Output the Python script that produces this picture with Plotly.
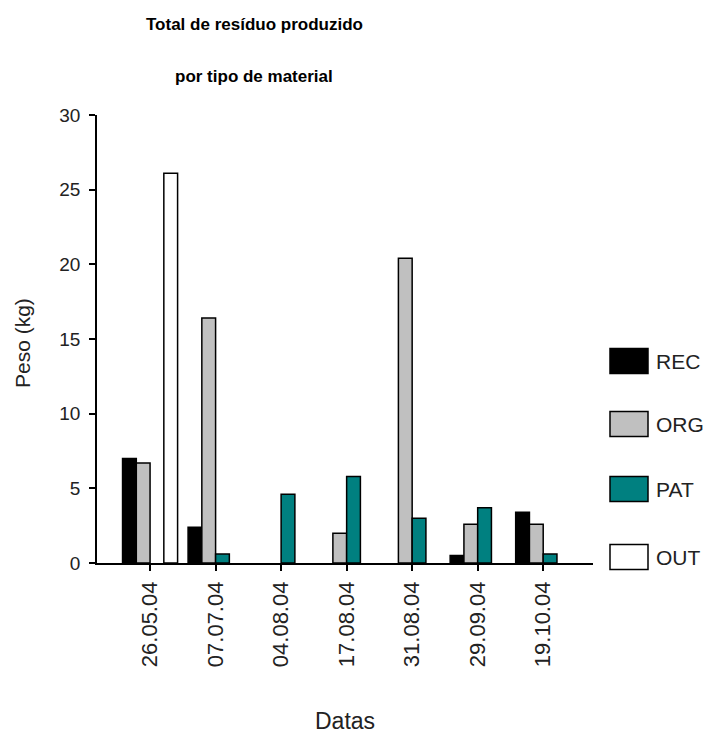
import plotly.graph_objects as go

# Collection dates (categories)
datas = ["26.05.04", "07.07.04", "04.08.04", "17.08.04", "31.08.04", "29.09.04", "19.10.04"]

# Weight (kg) per material type
rec = [7.0, 2.4, 0.0, 0.0, 0.0, 0.5, 3.4]
org = [6.7, 16.4, 0.0, 2.0, 20.4, 2.6, 2.6]
pat = [0.0, 0.6, 4.6, 5.8, 3.0, 3.7, 0.6]
out = [26.1, 0.0, 0.0, 0.0, 0.0, 0.0, 0.0]

series_names = ["REC", "ORG", "PAT", "OUT"]
series_values = [rec, org, pat, out]
series_colors = ["#000000", "#c0c0c0", "#008080", "#ffffff"]

W, H = 705, 734
L, R, T, B = 97, 593, 115, 563  # plot area in pixels
FONT = "Liberation Sans, Arial, sans-serif"


def px_x(x):
    return (x - L) / (R - L)


def px_y(y):
    return (B - y) / (B - T)


fig = go.Figure()
for name, vals, col in zip(series_names, series_values, series_colors):
    fig.add_trace(go.Bar(
        x=datas, y=vals, name=name,
        marker=dict(color=col,
                    line=dict(color="#000000",
                              width=[1.5 if v > 0 else 0 for v in vals])),
        showlegend=False,
    ))

annotations = [
    dict(text="<b>Total de resíduo produzido</b>", x=px_x(254), y=px_y(25)),
    dict(text="<b>por tipo de material</b>", x=px_x(254), y=px_y(77)),
]
for a in annotations:
    a.update(xref="paper", yref="paper", showarrow=False,
             xanchor="center", yanchor="middle",
             font=dict(family=FONT, size=17, color="#000000"))

# Axis titles
annotations.append(dict(text="Peso (kg)", x=px_x(22), y=px_y(343), xref="paper", yref="paper",
                        showarrow=False, textangle=-90, xanchor="center", yanchor="middle",
                        font=dict(family=FONT, size=21, color="#222222")))
annotations.append(dict(text="Datas", x=px_x(345), y=px_y(721), xref="paper", yref="paper",
                        showarrow=False, xanchor="center", yanchor="middle",
                        font=dict(family=FONT, size=23, color="#222222")))

# Legend: swatch boxes and labels
shapes = []
legend_y = [361, 424, 489, 557]
for name, col, cy in zip(series_names, series_colors, legend_y):
    shapes.append(dict(type="rect", xref="paper", yref="paper",
                       x0=px_x(610), x1=px_x(648), y0=px_y(cy + 12.5), y1=px_y(cy - 12.5),
                       fillcolor=col, line=dict(color="#000000", width=1.5)))
    annotations.append(dict(text=name, x=px_x(654), y=px_y(cy), xref="paper", yref="paper",
                            showarrow=False, xanchor="left", yanchor="middle",
                            font=dict(family=FONT, size=21, color="#222222")))

fig.update_layout(
    width=W, height=H,
    margin=dict(l=L, r=W - R, t=T, b=H - B, pad=0),
    paper_bgcolor="#ffffff", plot_bgcolor="#ffffff",
    barmode="group", bargap=0.16, bargroupgap=0.0,
    annotations=annotations, shapes=shapes,
    font=dict(family=FONT, color="#222222"),
)
fig.update_xaxes(
    type="category", range=[-0.81, 6.76],
    showline=True, linecolor="#000000", linewidth=1.5,
    ticks="outside", ticklen=6, tickcolor="#000000", tickwidth=1.5,
    tickangle=-90, ticklabelstandoff=2,
    tickfont=dict(family=FONT, size=22, color="#222222"),
    showgrid=False, zeroline=False,
)
fig.update_yaxes(
    range=[0, 30], dtick=5, tick0=0,
    showline=True, linecolor="#000000", linewidth=1.5,
    ticks="outside", ticklen=6, tickcolor="#000000", tickwidth=1.5,
    ticklabelstandoff=5,
    tickfont=dict(family=FONT, size=19, color="#222222"),
    showgrid=False, zeroline=False,
)

fig.write_html("out.html")
